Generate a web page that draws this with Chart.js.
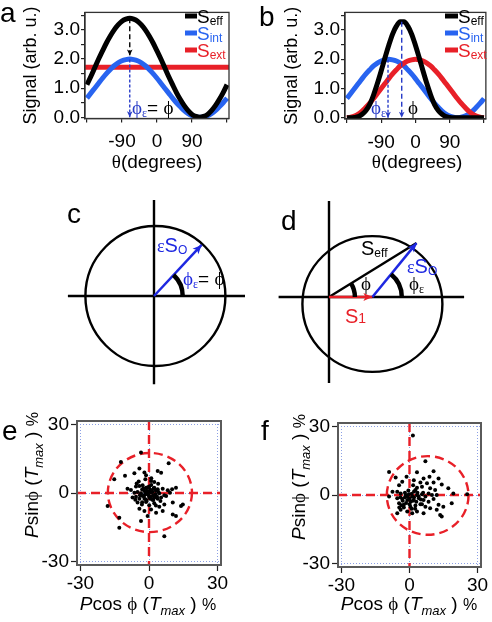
<!DOCTYPE html>
<html>
<head>
<meta charset="utf-8">
<script src="https://cdn.jsdelivr.net/npm/chart.js@4.4.1/dist/chart.umd.min.js"></script>
<style>
  html, body { margin: 0; padding: 0; background: #fff; }
  #fig { position: relative; width: 492px; height: 622px; overflow: hidden; }
  #fig canvas { position: absolute; }
</style>
</head>
<body>
<div id="fig">
  <canvas id="pa" width="245" height="200" style="left:0;top:0"></canvas>
  <canvas id="pb" width="247" height="200" style="left:245px;top:0"></canvas>
  <canvas id="pc" width="245" height="200" style="left:0;top:195px"></canvas>
  <canvas id="pd" width="247" height="200" style="left:245px;top:195px"></canvas>
  <canvas id="pe" width="245" height="222" style="left:0;top:400px"></canvas>
  <canvas id="pf" width="247" height="222" style="left:245px;top:400px"></canvas>
</div>
<script>
// ---- data: panels a / b (signal vs theta) ----
const theta = [-180, -170, -160, -150, -140, -130, -120, -110, -100, -90, -80, -70, -60, -50, -40, -30, -20, -10,
    0, 10, 20, 30, 40, 50, 60, 70, 80, 90, 100, 110, 120, 130, 140, 150, 160, 170, 180];
const sEffA = [1.12, 1.40, 1.70, 2.00, 2.28, 2.55, 2.79, 3.00, 3.17, 3.30, 3.37, 3.40, 3.37, 3.30, 3.17, 3.00, 2.79, 2.55,
    2.28, 2.00, 1.70, 1.40, 1.12, 0.85, 0.61, 0.40, 0.23, 0.10, 0.03, 0.00, 0.03, 0.10, 0.23, 0.40, 0.61, 0.85, 1.12];
const sInt = [0.66, 0.83, 1.00, 1.17, 1.34, 1.50, 1.64, 1.77, 1.87, 1.94, 1.98, 2.00, 1.98, 1.94, 1.87, 1.77, 1.64, 1.50,
    1.34, 1.17, 1.00, 0.83, 0.66, 0.50, 0.36, 0.23, 0.13, 0.06, 0.02, 0.00, 0.02, 0.06, 0.13, 0.23, 0.36, 0.50, 0.66];
const sExtAX = [-185, 185];
const sExtA = [1.72, 1.72];
const sEffB = [0.00, 0.00, 0.01, 0.04, 0.12, 0.25, 0.46, 0.78, 1.17, 1.60, 2.05, 2.48, 2.86, 3.13, 3.28, 3.28, 3.13, 2.86,
    2.48, 2.05, 1.60, 1.17, 0.78, 0.46, 0.25, 0.12, 0.04, 0.01, 0.00, 0.00, 0.00, 0.00, 0.00, 0.00, 0.00, 0.00, 0.00];
const sExtB = [0.00, 0.02, 0.06, 0.13, 0.23, 0.36, 0.50, 0.66, 0.83, 1.00, 1.17, 1.34, 1.50, 1.64, 1.77, 1.87, 1.94, 1.98,
    2.00, 1.98, 1.94, 1.87, 1.77, 1.64, 1.50, 1.34, 1.17, 1.00, 0.83, 0.66, 0.50, 0.36, 0.23, 0.13, 0.06, 0.02, 0.00];
// dashed markers: [theta, y from, y to]
const phiA = [-70, 3.40, 2.12];
const phiEpsA = [-70, 1.98, 0];
const phiEpsB = [-72, 1.98, 0];
const phiB = [-36, 3.28, 0];
const thetaTicks = [-180, -90, 0, 90, 180];
const thetaLabels = ['', '-90', '0', '90', ''];
const signalTicks = [0, 0.5, 1, 1.5, 2, 2.5, 3, 3.5];
const signalLabels = ['0.0', '', '1.0', '', '2.0', '', '3.0', ''];

// ---- data: panels c / d (phasor diagrams, unit = circle radius) ----
const cAxisX = [-1.23, 1.31];
const cAxisY = [1.37, -1.26];
const cVec = [0.68, 0.73];
const cCircle = [0.02, 0, 1, 1];
const dAxisX = [-0.72, 1.93];
const dAxisY = [1.37, -1.23];
const dS1 = [0.62, 0];
const dVec = [1.25, 0.77];
const dCircle = [0.62, -0.1, 1, 0.97];

// ---- data: panels e / f (P cos phi, P sin phi in %) ----
const ptsE = [
  [-3.5, 17.7], [-12.3, 13.6], [8.6, 13.0], [-4.2, 10.7], [3.8, 9.6], [5.3, 8.9], [-10.5, 7.5], [-6.4, 8.6],
  [-1.3, 7.8], [-15.2, 6.0], [-1.6, 6.0], [0.9, 5.3], [2.3, 4.8], [-5.4, 4.2], [-9.4, 1.9], [-5.7, 2.8],
  [-4.2, 3.1], [-2.8, 3.4], [-1.3, 2.3], [0.1, 2.8], [2.3, 2.3], [3.8, 1.6], [6.0, 1.9], [8.2, 1.2],
  [10.1, 1.6], [11.8, 2.3], [-7.9, 1.3], [-6.4, 0.1], [-5.0, 0.4], [-3.5, -0.1], [-2.0, 0.9], [-0.6, -0.6],
  [0.9, 0.1], [2.8, -0.6], [4.5, -0.1], [6.7, -1.0], [9.2, 0.1], [-7.2, -2.0], [-5.7, -1.6], [-4.2, -2.5],
  [-2.8, -1.3], [-1.3, -2.8], [0.4, -2.0], [1.9, -3.1], [3.8, -2.5], [5.3, -2.0], [7.5, -1.3], [-5.0, -4.2],
  [-3.1, -5.0], [-1.3, -3.9], [0.1, -5.4], [2.3, -4.5], [4.5, -6.0], [6.7, -5.0], [10.4, -4.2], [14.0, -5.7],
  [14.8, -5.0], [-18.1, -5.7], [-4.2, -6.9], [-2.0, -7.9], [0.9, -7.2], [6.0, -7.9], [3.1, -8.6], [-0.6, -10.1],
  [10.4, -9.4], [11.8, -10.1], [-13.0, -10.8], [-3.5, -12.3], [-13.0, -15.2], [6.7, -18.9],
  [-1.0, 1.0], [0.5, 1.5], [1.5, 0.5], [-0.5, -0.5], [2.0, -1.0], [-2.0, -1.0], [1.0, -1.5], [-1.5, 0.0],
  [0.0, 0.5], [3.0, 1.0], [-3.0, 1.5], [2.5, -2.0], [-1.0, -3.5], [1.0, 3.5], [-2.5, 2.0], [3.5, -1.5],
  [0.0, -1.5], [-4.0, -1.0], [4.0, 0.5], [1.5, -3.0], [-0.5, 2.5], [2.0, 2.0], [-2.0, -2.5], [0.5, -2.5],
  [5.0, -3.5], [-6.0, -3.0], [-3.0, -4.0], [3.0, -5.5], [-4.5, 5.0], [4.0, 4.0], [1.0, 6.5], [-2.0, 9.0]
];
const ptsF = [
  [7.0, 14.8], [-9.0, 10.1], [3.3, 9.9], [10.6, 10.4], [-6.1, 7.7], [-1.3, 8.0], [6.2, 7.2], [8.8, 8.0],
  [12.8, 7.2], [-3.2, 5.8], [1.9, 6.5], [4.8, 5.5], [7.7, 5.1], [10.6, 5.5], [14.2, 4.6], [1.6, 4.3],
  [-4.6, 4.3], [3.3, 3.2], [5.5, 3.6], [9.1, 2.9], [11.3, 2.2], [2.6, 2.2], [17.1, 2.9], [19.3, 0.7],
  [25.4, 0.3], [-7.5, 1.4], [-5.4, 1.4], [-3.9, 0.7], [-1.7, 0.0], [-0.3, 0.3], [1.2, -0.7], [3.3, 0.0],
  [5.5, 0.3], [7.0, -0.7], [8.4, 0.7], [9.9, 0.0], [12.0, 0.0], [-5.4, -1.4], [-3.2, -1.7], [-1.0, -2.2],
  [1.9, -2.2], [4.1, -1.4], [6.2, -2.2], [8.4, -2.9], [10.6, -1.7], [12.8, -4.3], [14.9, -5.1], [18.6, -3.6],
  [-4.6, -3.6], [-2.5, -4.3], [0.4, -5.1], [2.6, -4.6], [4.8, -4.1], [7.0, -5.1], [9.1, -5.8], [12.0, -6.5],
  [-3.9, -6.5], [-1.0, -7.2], [1.2, -8.0], [3.3, -7.2], [6.2, -8.0], [13.5, -8.7], [14.2, -9.4], [-5.4, -8.0],
  [-9.0, -0.7], [1.5, 26.0],
  [-2.0, -1.0], [-1.0, -0.5], [0.0, -1.5], [1.0, 0.5], [2.0, -1.0], [-3.0, -2.5], [-4.0, -1.0], [0.5, -3.0],
  [2.0, 1.5], [-2.0, 1.0], [3.0, -3.0], [4.0, -0.5], [-1.5, -3.5], [1.5, -2.5], [-3.5, -4.5], [0.0, -4.0],
  [-2.5, -5.5], [3.5, 1.0], [5.0, -2.0], [6.0, 1.0], [-0.5, 2.0], [1.0, -6.0], [-4.5, -5.5], [2.5, -6.0], [5.5, -4.0]
];
const circleE = [0.4, 0.2, 18.4, 17.3];
const circleF = [8.0, -0.2, 18.0, 17.2];
const pTicks = [-30, 0, 30];
const pLabels = ['-30', '0', '30'];
const zeroLines = [0];

// ---- styling ----
const SANS = '"Liberation Sans", Arial, sans-serif';
const SERIF = '"Liberation Serif", "DejaVu Serif", serif';
const BLACK = '#000';
const BLUE = 'rgb(40, 100, 240)';
const RED = 'rgb(232, 32, 40)';
const VBLUE = 'rgb(30, 40, 225)';
const DBLUE = 'rgb(40, 60, 200)';
const f = (size, fam, style) => (style ? style + ' ' : '') + size + 'px ' + (fam || SANS);

Chart.defaults.font.family = SANS;
Chart.defaults.color = '#000';

function pairs(xs, ys) {
    return xs.map((x, i) => ({ x: x, y: ys[i] }));
}

// rich text + legend swatches drawn on top of a chart
function decor(texts, lines) {
    return {
        id: 'decor',
        afterDraw(chart) {
            const ctx = chart.ctx;
            (lines || []).forEach(l => {
                ctx.save();
                ctx.strokeStyle = l.c;
                ctx.lineWidth = l.w;
                ctx.beginPath();
                ctx.moveTo(l.x1, l.y);
                ctx.lineTo(l.x2, l.y);
                ctx.stroke();
                ctx.restore();
            });
            texts.forEach(it => {
                ctx.save();
                ctx.translate(it.x, it.y);
                if (it.rot) ctx.rotate(it.rot);
                const widths = it.runs.map(r => { ctx.font = r.f; return ctx.measureText(r.t).width; });
                const total = widths.reduce((a, b) => a + b, 0);
                let cx = it.align === 'center' ? -total / 2 : (it.align === 'right' ? -total : 0);
                ctx.textBaseline = 'alphabetic';
                ctx.textAlign = 'left';
                it.runs.forEach((r, i) => {
                    ctx.font = r.f;
                    ctx.fillStyle = r.c || BLACK;
                    ctx.fillText(r.t, cx, r.dy || 0);
                    cx += widths[i];
                });
                ctx.restore();
            });
        }
    };
}

function frame(color, width) {
    return {
        id: 'frame',
        afterDatasetsDraw(chart) {
            const a = chart.chartArea, ctx = chart.ctx;
            ctx.save();
            ctx.strokeStyle = color;
            ctx.lineWidth = width;
            ctx.strokeRect(a.left, a.top, a.right - a.left, a.bottom - a.top);
            ctx.restore();
        }
    };
}

// circles / ellipses given in data units
function ellipses(list) {
    return {
        id: 'ellipses',
        beforeDatasetsDraw(chart) {
            const xs = chart.scales.x, ys = chart.scales.y, ctx = chart.ctx;
            list.forEach(e => {
                const [cx, cy, rx, ry] = e.c;
                const px = xs.getPixelForValue(cx), py = ys.getPixelForValue(cy);
                ctx.save();
                ctx.strokeStyle = e.color;
                ctx.lineWidth = e.width;
                ctx.setLineDash(e.dash || []);
                ctx.beginPath();
                ctx.ellipse(px, py, xs.getPixelForValue(cx + rx) - px, py - ys.getPixelForValue(cy + ry), 0, 0, Math.PI * 2);
                ctx.stroke();
                ctx.restore();
            });
        }
    };
}

// angle marks: arc from the +x direction up to a vector
function angleMarks(list) {
    return {
        id: 'angleMarks',
        afterDatasetsDraw(chart) {
            const xs = chart.scales.x, ys = chart.scales.y, ctx = chart.ctx;
            list.forEach(m => {
                const px = xs.getPixelForValue(m.at[0]), py = ys.getPixelForValue(m.at[1]);
                const r = xs.getPixelForValue(m.at[0] + m.r) - px;
                const ang = Math.atan2(m.to[1] - m.at[1], m.to[0] - m.at[0]);
                ctx.save();
                ctx.strokeStyle = BLACK;
                ctx.lineWidth = m.width;
                ctx.beginPath();
                ctx.arc(px, py, r, -ang, 0);
                ctx.stroke();
                ctx.restore();
            });
        }
    };
}

function crossLines(values, color) {
    return {
        id: 'crossLines',
        beforeDatasetsDraw(chart) {
            const a = chart.chartArea, ctx = chart.ctx;
            ctx.save();
            ctx.strokeStyle = color;
            ctx.lineWidth = 2.4;
            ctx.setLineDash([9, 5]);
            values.forEach(v => {
                const px = chart.scales.x.getPixelForValue(v), py = chart.scales.y.getPixelForValue(v);
                ctx.beginPath();
                ctx.moveTo(px, a.top); ctx.lineTo(px, a.bottom);
                ctx.moveTo(a.left, py); ctx.lineTo(a.right, py);
                ctx.stroke();
            });
            ctx.restore();
        }
    };
}

// arrow heads on the last point of datasets that carry an `arrow` option
Chart.register({
    id: 'arrowHeads',
    afterDatasetsDraw(chart) {
        const ctx = chart.ctx;
        chart.data.datasets.forEach((ds, i) => {
            if (!ds.arrow) return;
            const pts = chart.getDatasetMeta(i).data;
            const a = pts[pts.length - 2], b = pts[pts.length - 1];
            const ang = Math.atan2(b.y - a.y, b.x - a.x);
            const L = ds.arrow[0], W = ds.arrow[1];
            ctx.save();
            ctx.fillStyle = ds.borderColor;
            ctx.translate(b.x, b.y);
            ctx.rotate(ang);
            ctx.beginPath();
            ctx.moveTo(0, 0);
            ctx.lineTo(-L, -W);
            ctx.lineTo(-L * 0.75, 0);
            ctx.lineTo(-L, W);
            ctx.closePath();
            ctx.fill();
            ctx.restore();
        });
    }
});

const base = {
    responsive: false,
    devicePixelRatio: 1,
    animation: false,
    events: [],
    plugins: { legend: { display: false }, tooltip: { enabled: false } }
};

function curve(data, color, width) {
    return { data: data, showLine: true, borderColor: color, borderWidth: width, pointRadius: 0,
        cubicInterpolationMode: 'monotone', fill: false };
}
function marker(m, color, dash) {
    return { data: pairs([m[0], m[0]], [m[1], m[2]]), showLine: true, borderColor: color, borderWidth: 1.4,
        borderDash: dash, pointRadius: 0, arrow: [6, 2.8] };
}

function signalChart(id, datasets, opts, texts, lines) {
    return new Chart(document.getElementById(id), {
        type: 'scatter',
        data: { datasets: datasets },
        options: Object.assign({}, base, {
            layout: { padding: { left: 0, top: opts.top, right: opts.right, bottom: 0 } },
            scales: {
                x: {
                    type: 'linear', min: -185, max: 185,
                    afterBuildTicks: s => { s.ticks = thetaTicks.map(v => ({ value: v })); },
                    afterFit: s => { s.height = opts.xh; },
                    ticks: { callback: (v, i) => thetaLabels[i], font: { size: 19 }, color: BLACK, padding: 8,
                        maxRotation: 0, autoSkip: false },
                    grid: { drawOnChartArea: false, drawTicks: true, tickLength: 4, color: '#222', lineWidth: 1.2 },
                    border: { display: true, color: '#222', width: 1.2 }
                },
                y: {
                    min: -0.04, max: 3.6,
                    afterBuildTicks: s => { s.ticks = signalTicks.map(v => ({ value: v })); },
                    afterFit: s => { s.width = opts.yw; },
                    ticks: { callback: (v, i) => signalLabels[i], font: { size: 19 }, color: BLACK, padding: 1,
                        autoSkip: false },
                    grid: { drawOnChartArea: false, drawTicks: true, tickLength: 4, color: '#222', lineWidth: 1.2 },
                    border: { display: true, color: '#222', width: 1.2 },
                    title: { display: true, text: 'Signal (arb. u.)', font: { size: 18 }, color: BLACK,
                        padding: { top: opts.tpad, bottom: 0 } }
                }
            }
        }),
        plugins: [frame('#333', 1.3), decor(texts, lines)]
    });
}

function legendBlock(x, tx) {
    const rows = [
        { y: 16, c: BLACK, sub: 'eff' },
        { y: 33, c: BLUE, sub: 'int' },
        { y: 50, c: RED, sub: 'ext' }
    ];
    return {
        lines: rows.map(r => ({ x1: x, x2: tx, y: r.y, c: r.c, w: 5 })),
        texts: rows.map(r => ({ x: tx, y: r.y + 7, runs: [
            { t: 'S', f: f(19), c: r.c }, { t: r.sub, f: f(12), c: r.c, dy: 2 }] }))
    };
}

// ---- panel a ----
const legA = legendBlock(185, 197);
signalChart('pa', [
    marker(phiA, BLACK, [5, 3]),
    marker(phiEpsA, DBLUE, [3, 2]),
    curve(pairs(theta, sEffA), BLACK, 5),
    curve(pairs(theta, sInt), BLUE, 5),
    curve(pairs(sExtAX, sExtA), RED, 5)
], { top: 4, right: 16, xh: 81.5, yw: 85, tpad: 20 }, legA.texts.concat([
    { x: 0, y: 22, runs: [{ t: 'a', f: f(28) }] },
    { x: 132, y: 114, runs: [{ t: 'ϕ', f: f(19, SERIF), c: DBLUE }, { t: 'ε', f: f(12, SERIF), c: DBLUE, dy: 3 },
        { t: '= ', f: f(19) }, { t: 'ϕ', f: f(19, SERIF) }] },
    { x: 157, y: 168, align: 'center', runs: [{ t: 'θ', f: f(19, SERIF) }, { t: '(degrees)', f: f(19) }] }
]), legA.lines);

// ---- panel b ----
const legB = legendBlock(200, 213);
signalChart('pb', [
    marker(phiB, DBLUE, [5, 3]),
    marker(phiEpsB, DBLUE, [3, 2]),
    curve(pairs(theta, sEffB), BLACK, 5),
    curve(pairs(theta, sExtB), RED, 5),
    curve(pairs(theta, sInt), BLUE, 5)
], { top: 5, right: 3, xh: 81, yw: 100, tpad: 36 }, legB.texts.concat([
    { x: 14, y: 26, runs: [{ t: 'b', f: f(28) }] },
    { x: 126, y: 114, runs: [{ t: 'ϕ', f: f(19, SERIF), c: DBLUE }, { t: 'ε', f: f(12, SERIF), c: DBLUE, dy: 3 }] },
    { x: 163, y: 114, runs: [{ t: 'ϕ', f: f(19, SERIF) }] },
    { x: 172, y: 168, align: 'center', runs: [{ t: 'θ', f: f(19, SERIF) }, { t: '(degrees)', f: f(19) }] }
]), legB.lines);

// ---- panels c / d ----
function seg(xs, ys, color, width, arrow) {
    return { data: pairs(xs, ys), showLine: true, borderColor: color, borderWidth: width, pointRadius: 0,
        tension: 0, arrow: arrow };
}
function diagram(id, w, h, ox, oy, unit, datasets, circle, marks, texts) {
    return new Chart(document.getElementById(id), {
        type: 'scatter',
        data: { datasets: datasets },
        options: Object.assign({}, base, {
            layout: { padding: 0 },
            scales: {
                x: { display: false, min: -ox / unit, max: (w - ox) / unit },
                y: { display: false, min: -(h - oy) / unit, max: oy / unit }
            }
        }),
        plugins: [ellipses([{ c: circle, color: BLACK, width: 2.4 }]), angleMarks(marks), decor(texts)]
    });
}

diagram('pc', 245, 200, 154, 101, 70, [
    seg([0, cVec[0]], [0, cVec[1]], VBLUE, 2.5, [9, 4]),
    seg(cAxisX, [0, 0], BLACK, 2.4),
    seg([0, 0], cAxisY, BLACK, 2.4)
], cCircle, [{ at: [0, 0], r: 0.41, to: cVec, width: 4.5 }], [
    { x: 67, y: 28, runs: [{ t: 'c', f: f(28) }] },
    { x: 157, y: 57, runs: [{ t: 'ε', f: f(18, SERIF), c: VBLUE }, { t: 'S', f: f(20), c: VBLUE },
        { t: 'O', f: f(12), c: VBLUE, dy: 2 }] },
    { x: 183, y: 90, runs: [{ t: 'ϕ', f: f(19, SERIF), c: VBLUE }, { t: 'ε', f: f(12, SERIF), c: VBLUE, dy: 3 },
        { t: '= ', f: f(19) }, { t: 'ϕ', f: f(19, SERIF) }] }
]);

diagram('pd', 247, 200, 84, 102, 70, [
    seg([dS1[0], dVec[0]], [dS1[1], dVec[1]], VBLUE, 2.5, [9, 4]),
    seg([0, dS1[0]], [0, dS1[1]], RED, 2.5, [9, 4]),
    seg([0, dVec[0]], [0, dVec[1]], BLACK, 2.4),
    seg(dAxisX, [0, 0], BLACK, 2.4),
    seg([0, 0], dAxisY, BLACK, 2.4)
], dCircle, [
    { at: [0, 0], r: 0.37, to: dVec, width: 4.5 },
    { at: dS1, r: 0.42, to: dVec, width: 4.5 }
], [
    { x: 36, y: 35, runs: [{ t: 'd', f: f(28) }] },
    { x: 116, y: 60, runs: [{ t: 'S', f: f(20) }, { t: 'eff', f: f(12), dy: 2 }] },
    { x: 162, y: 78, runs: [{ t: 'ε', f: f(18, SERIF), c: VBLUE }, { t: 'S', f: f(20), c: VBLUE },
        { t: 'O', f: f(12), c: VBLUE, dy: 2 }] },
    { x: 116, y: 95, runs: [{ t: 'ϕ', f: f(19, SERIF) }] },
    { x: 164, y: 95, runs: [{ t: 'ϕ', f: f(19, SERIF) }, { t: 'ε', f: f(12, SERIF), dy: 3 }] },
    { x: 100, y: 128, runs: [{ t: 'S', f: f(20), c: RED }, { t: '1', f: f(14), c: RED }] }
]);

// ---- panels e / f ----
function titleRuns(a, b) {
    return [{ t: 'P', f: f(19, SANS, 'italic') }, { t: a, f: f(19) }, { t: 'ϕ', f: f(19, SERIF) },
        { t: b + '(', f: f(19) }, { t: 'T', f: f(19, SANS, 'italic') }, { t: 'max', f: f(13, SANS, 'italic'), dy: 5 },
        { t: ' ) ', f: f(19) }, { t: '%', f: f(16) }];
}
function polarChart(id, pts, circle, opts, texts) {
    const axis = (isX) => ({
        min: -31.5, max: 31.5,
        afterBuildTicks: s => { s.ticks = pTicks.map(v => ({ value: v })); },
        afterFit: isX ? (s => { s.height = opts.xh; }) : (s => { s.width = opts.yw; }),
        ticks: { callback: (v, i) => pLabels[i], font: { size: 19 }, color: BLACK, padding: isX ? 1 : 2,
            maxRotation: 0, autoSkip: false },
        grid: { drawOnChartArea: true, drawTicks: true, tickLength: 6, color: 'rgb(140, 160, 230)', lineWidth: 1,
            tickColor: '#222', tickWidth: 1.2, tickBorderDash: [] },
        border: { display: false, dash: [1, 2] }
    });
    return new Chart(document.getElementById(id), {
        type: 'scatter',
        data: { datasets: [{ data: pts.map(p => ({ x: p[0], y: p[1] })), pointRadius: 2,
            backgroundColor: BLACK, borderWidth: 0 }] },
        options: Object.assign({}, base, {
            layout: { padding: { left: 0, top: opts.top, right: opts.right, bottom: 0 } },
            scales: { x: axis(true), y: axis(false) }
        }),
        plugins: [crossLines(zeroLines, RED), ellipses([{ c: circle, color: RED, width: 2.4, dash: [9, 5] }]),
            frame('#5a5a5a', 2), decor(texts)]
    });
}

polarChart('pe', ptsE, circleE, { top: 21, right: 24, xh: 57, yw: 77 }, [
    { x: 2, y: 40, runs: [{ t: 'e', f: f(28) }] },
    { x: 38, y: 75, rot: -Math.PI / 2, align: 'center', runs: titleRuns('sin', ' ') },
    { x: 148, y: 210, align: 'center', runs: titleRuns('cos ', ' ') }
]);
polarChart('pf', ptsF, circleF, { top: 23, right: 11, xh: 55, yw: 93 }, [
    { x: 16, y: 40, runs: [{ t: 'f', f: f(28) }] },
    { x: 60, y: 77, rot: -Math.PI / 2, align: 'center', runs: titleRuns('sin', ' ') },
    { x: 164, y: 210, align: 'center', runs: titleRuns('cos ', ' ') }
]);
</script>
</body>
</html>
